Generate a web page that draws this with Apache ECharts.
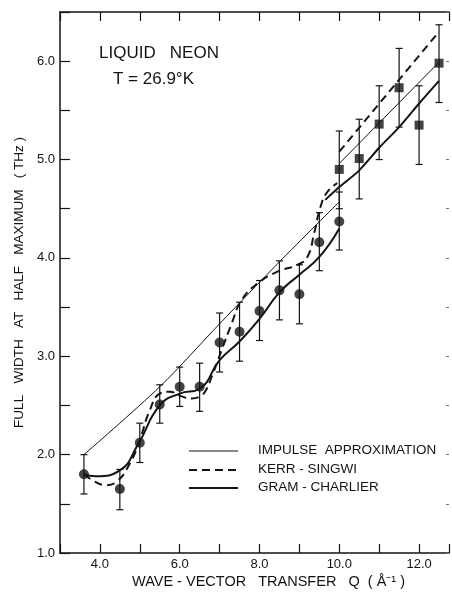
<!DOCTYPE html>
<html>
<head>
<meta charset="utf-8">
<script src="https://cdn.jsdelivr.net/npm/echarts@6/dist/echarts.min.js"></script>
<style>
html,body{margin:0;padding:0;background:#fff;}
#chart{width:452px;height:593px;}
</style>
</head>
<body>
<div id="chart"></div>
<script>
// ---- data ----
var qCircle = [3.6, 4.5, 5.0, 5.5, 6.0, 6.5, 7.0, 7.5, 8.0, 8.5, 9.0, 9.5, 10.0];
var fwhmCircle = [1.80, 1.65, 2.12, 2.51, 2.69, 2.69, 3.14, 3.25, 3.46, 3.67, 3.63, 4.16, 4.37];
var errLowCircle = [1.60, 1.44, 1.92, 2.32, 2.49, 2.44, 2.84, 2.95, 3.16, 3.37, 3.33, 3.87, 4.08];
var errHighCircle = [2.00, 1.85, 2.32, 2.71, 2.89, 2.93, 3.44, 3.55, 3.77, 3.97, 3.93, 4.46, 4.67];

var qSquare = [10.0, 10.5, 11.0, 11.5, 12.0, 12.5];
var fwhmSquare = [4.90, 5.01, 5.36, 5.73, 5.35, 5.98];
var errLowSquare = [4.50, 4.60, 5.00, 5.33, 4.95, 5.58];
var errHighSquare = [5.29, 5.41, 5.75, 6.13, 5.75, 6.37];

var impulseQ1 = [3.6, 5.5, 7.0, 8.5, 10.0];
var impulseV1 = [2.00, 2.69, 3.33, 3.96, 4.57];
var impulseQ2 = [10.0, 12.5];
var impulseV2 = [4.96, 5.99];

var kerrQ1 = [3.6, 3.9, 4.15, 4.4, 4.75, 5.0, 5.25, 5.5, 5.75, 6.0, 6.3, 6.5, 6.65, 6.8, 7.05, 7.3, 7.55, 7.95, 8.45, 8.95, 9.2, 9.37, 9.53, 9.7, 9.95];
var kerrV1 = [1.80, 1.72, 1.69, 1.72, 1.91, 2.15, 2.45, 2.62, 2.64, 2.60, 2.57, 2.59, 2.65, 2.79, 3.06, 3.33, 3.57, 3.74, 3.86, 3.93, 4.01, 4.25, 4.52, 4.67, 4.76];
var kerrQ2 = [10.0, 12.5];
var kerrV2 = [5.08, 6.30];

var gcQ1 = [3.6, 3.9, 4.5, 4.95, 5.5, 6.0, 6.5, 7.0, 7.5, 8.0, 8.5, 9.0, 9.5, 10.0];
var gcV1 = [1.80, 1.78, 1.84, 2.10, 2.50, 2.62, 2.67, 2.96, 3.15, 3.38, 3.65, 3.83, 4.01, 4.30];
var gcQ2 = [9.65, 10.0, 10.5, 11.0, 11.5, 12.0, 12.5];
var gcV2 = [4.59, 4.72, 4.89, 5.12, 5.33, 5.57, 5.80];

var legendLabels = ['IMPULSE  APPROXIMATION', 'KERR - SINGWI', 'GRAM - CHARLIER'];
var xAxisTitle = 'WAVE - VECTOR   TRANSFER   Q  ( Å\u207B\u00B9 )';
var yAxisTitle = 'FULL   WIDTH   AT   HALF   MAXIMUM   ( THz )';
var titleLine1 = 'LIQUID   NEON';
var titleLine2 = 'T = 26.9°K';

// ---- helpers ----
function zip(a, b) { return a.map(function (v, i) { return [v, b[i]]; }); }
function zip3(a, b, c) { return a.map(function (v, i) { return [v, b[i], c[i]]; }); }

var INK = '#141414';
var FONT = '"Liberation Sans", Arial, sans-serif';

function errRender(params, api) {
  var x = api.value(0);
  var lo = api.coord([x, api.value(1)]);
  var hi = api.coord([x, api.value(2)]);
  var w = 3.5;
  var st = { stroke: INK, lineWidth: 1.2 };
  return {
    type: 'group',
    children: [
      { type: 'line', shape: { x1: lo[0], y1: lo[1], x2: hi[0], y2: hi[1] }, style: st },
      { type: 'line', shape: { x1: lo[0] - w, y1: lo[1], x2: lo[0] + w, y2: lo[1] }, style: st },
      { type: 'line', shape: { x1: hi[0] - w, y1: hi[1], x2: hi[0] + w, y2: hi[1] }, style: st }
    ]
  };
}

function lineSeries(q, v, width, type, smooth) {
  return {
    type: 'line', data: zip(q, v), showSymbol: false, symbol: 'none', smooth: smooth,
    lineStyle: { color: INK, width: width, type: type }, silent: true, z: 3
  };
}

var chart = echarts.init(document.getElementById('chart'), null, { renderer: 'canvas' });

var legendY = [451, 470, 488];
var graphics = [
  { type: 'text', left: 99, top: 45, style: { text: titleLine1, font: '17px ' + FONT, fill: INK } },
  { type: 'text', left: 113, top: 71, style: { text: titleLine2, font: '17px ' + FONT, fill: INK } },
  { type: 'line', shape: { x1: 189, y1: legendY[0], x2: 238, y2: legendY[0] }, style: { stroke: INK, lineWidth: 1 } },
  { type: 'line', shape: { x1: 189, y1: legendY[1], x2: 238, y2: legendY[1] }, style: { stroke: INK, lineWidth: 2, lineDash: [8, 5] } },
  { type: 'line', shape: { x1: 189, y1: legendY[2], x2: 238, y2: legendY[2] }, style: { stroke: INK, lineWidth: 2 } },
  { type: 'text', left: 258, top: legendY[0] - 8, style: { text: legendLabels[0], font: '13.5px ' + FONT, fill: INK } },
  { type: 'text', left: 258, top: legendY[1] - 8, style: { text: legendLabels[1], font: '13.5px ' + FONT, fill: INK } },
  { type: 'text', left: 258, top: legendY[2] - 8, style: { text: legendLabels[2], font: '13.5px ' + FONT, fill: INK } },
  { type: 'text', left: 132, top: 574, style: { text: xAxisTitle, font: '14.5px ' + FONT, fill: INK } }
];

var option = {
  backgroundColor: '#fff',
  animation: false,
  grid: { left: 60, right: 2, top: 12, bottom: 40 },
  xAxis: [
    {
      type: 'value', min: 3, max: 12.75, interval: 1, position: 'bottom',
      axisLine: { lineStyle: { color: INK, width: 1.5 } },
      axisTick: { inside: true, length: 9, lineStyle: { color: INK, width: 1.2 } },
      axisLabel: {
        color: INK, fontFamily: FONT, fontSize: 13, margin: 5,
        formatter: function (v) { return (Math.abs(v % 2) < 1e-9) ? v.toFixed(1) : ''; }
      },
      splitLine: { show: false }
    },
    {
      type: 'value', min: 3, max: 12.75, interval: 1, position: 'top',
      axisLine: { lineStyle: { color: INK, width: 1.5 } },
      axisTick: { inside: true, length: 9, lineStyle: { color: INK, width: 1.2 } },
      axisLabel: { show: false },
      splitLine: { show: false }
    }
  ],
  yAxis: [
    {
      type: 'value', min: 1, max: 6.5, interval: 0.5, position: 'left',
      name: yAxisTitle, nameLocation: 'middle', nameGap: 22,
      nameTextStyle: { color: INK, fontFamily: FONT, fontSize: 13.5 },
      axisLine: { lineStyle: { color: INK, width: 1.5 } },
      axisTick: { inside: true, length: 10, lineStyle: { color: INK, width: 1.2 } },
      axisLabel: {
        color: INK, fontFamily: FONT, fontSize: 13, margin: 5,
        formatter: function (v) { return (Math.abs(v % 1) < 1e-9) ? v.toFixed(1) : ''; }
      },
      splitLine: { show: false }
    },
    {
      type: 'value', min: 1, max: 6.5, interval: 0.5, position: 'right',
      axisLine: { show: false },
      axisTick: { inside: true, length: 3, lineStyle: { color: '#777', width: 1 } },
      axisLabel: { show: false },
      splitLine: { show: false }
    }
  ],
  graphic: graphics,
  series: [
    lineSeries(impulseQ1, impulseV1, 1, 'solid', 0.3),
    lineSeries(impulseQ2, impulseV2, 1, 'solid', false),
    lineSeries(kerrQ1, kerrV1, 2, [8, 5], 0.5),
    lineSeries(kerrQ2, kerrV2, 2, [8, 5], false),
    lineSeries(gcQ1, gcV1, 2, 'solid', 0.5),
    lineSeries(gcQ2, gcV2, 2, 'solid', 0.3),
    { type: 'custom', renderItem: errRender, data: zip3(qCircle, errLowCircle, errHighCircle), encode: { x: 0, y: [1, 2] }, z: 4, silent: true },
    { type: 'custom', renderItem: errRender, data: zip3(qSquare, errLowSquare, errHighSquare), encode: { x: 0, y: [1, 2] }, z: 4, silent: true },
    { type: 'scatter', data: zip(qCircle, fwhmCircle), symbol: 'circle', symbolSize: 10, itemStyle: { color: INK }, z: 5, silent: true },
    { type: 'scatter', data: zip(qSquare, fwhmSquare), symbol: 'rect', symbolSize: 9, itemStyle: { color: INK }, z: 5, silent: true }
  ]
};
chart.setOption(option);
</script>
</body>
</html>
